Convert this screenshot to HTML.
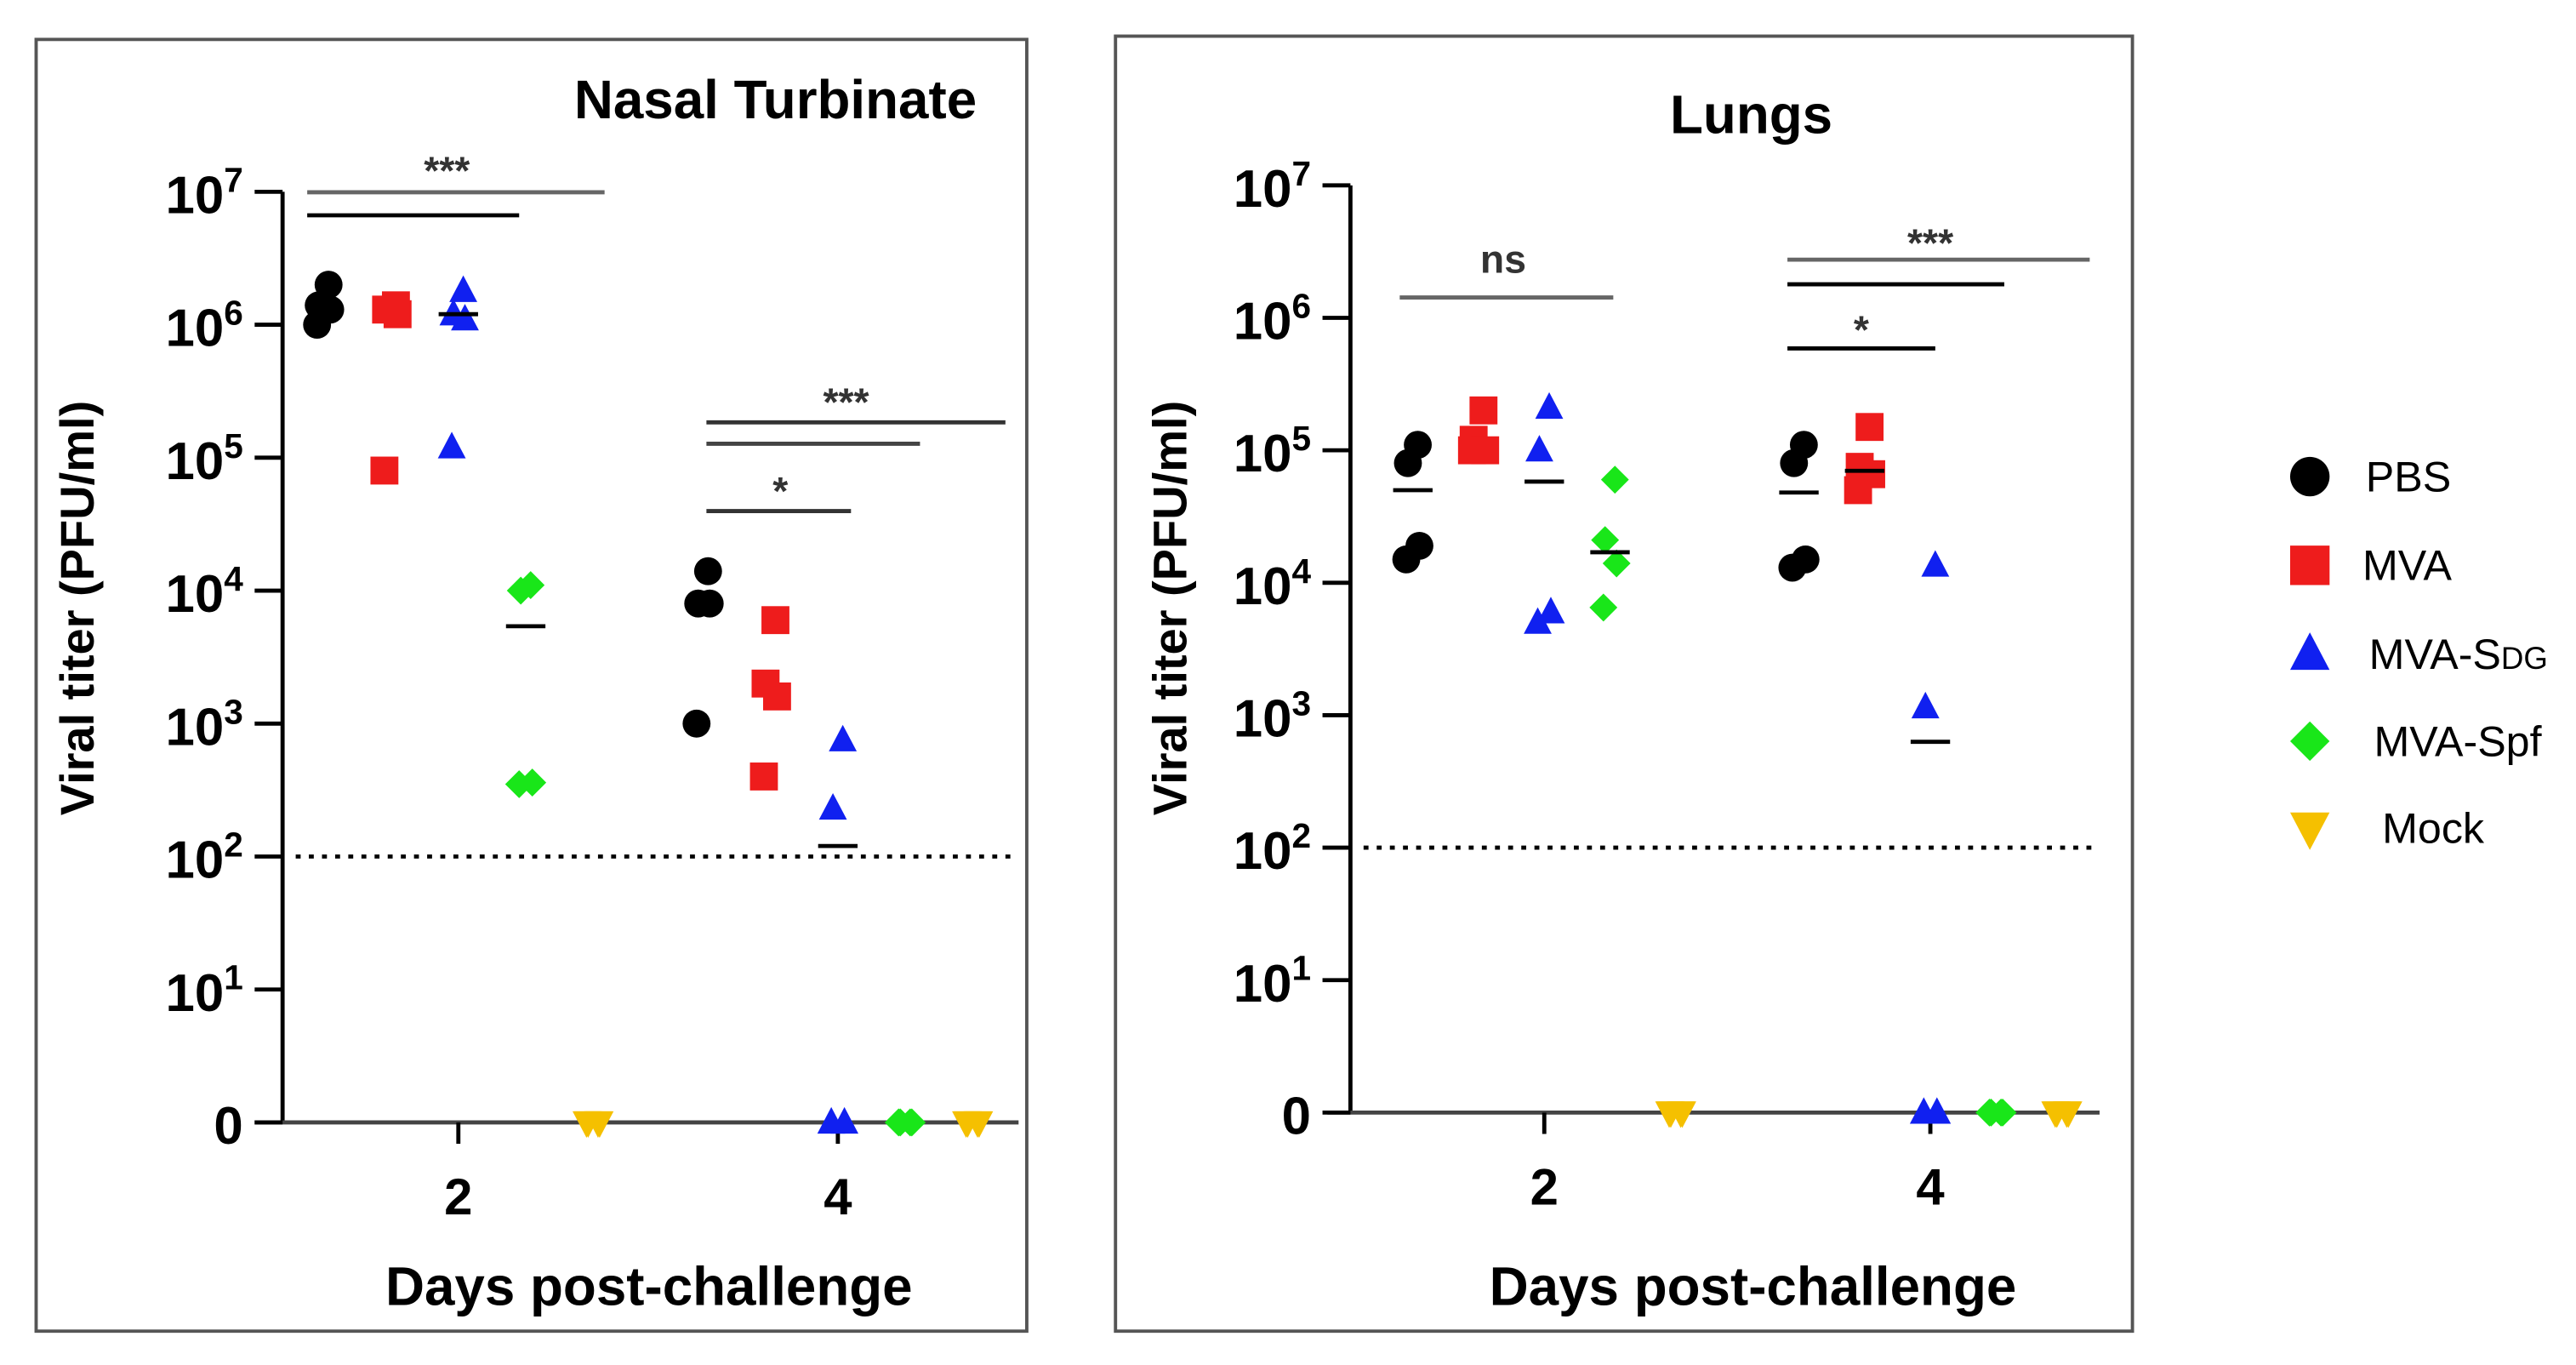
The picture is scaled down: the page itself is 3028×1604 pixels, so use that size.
<!DOCTYPE html>
<html><head><meta charset="utf-8">
<style>
html,body{margin:0;padding:0;background:#fff;}
svg{display:block;}
text{font-family:"Liberation Sans",sans-serif;}
</style></head>
<body>
<svg id="chart" width="3028" height="1604" viewBox="0 0 1568 830.6" preserveAspectRatio="none" xmlns="http://www.w3.org/2000/svg">
<rect x="0" y="0" width="1568" height="830.6" fill="#fff"/>
<rect x="22" y="24" width="603" height="786" fill="none" stroke="#555" stroke-width="2"/>
<rect x="679" y="22" width="619" height="788" fill="none" stroke="#555" stroke-width="2"/>
<text x="472" y="72" font-size="33" font-weight="bold" text-anchor="middle">Nasal Turbinate</text>
<text x="1066" y="81" font-size="33" font-weight="bold" text-anchor="middle">Lungs</text>
<g id="legend"></g>
</svg>
<script>
const NS='http://www.w3.org/2000/svg';
const svg=document.getElementById('chart');
const groups=['PBS','MVA','MVA-Sdg','MVA-Spf','Mock'];
const colors=['#000000','#ee1c1c','#1020f0','#19e619','#f5c000'];
const shapes=['circle','square','triangle','diamond','tridown'];
const days=['2','4'];
const yTickExps=[7,6,5,4,3,2,1];
// Nasal turbinate values [day][group][points]
const nasalDay2=[[2e6,1.4e6,1.3e6,1e6],[1.4e6,1.3e6,1.2e6,8e4],[1.8e6,1.2e6,1.1e6,1.2e5],[1.1e4,1e4,360,350],[0,0,0,0]];
const nasalDay4=[[1.4e4,8e3,8e3,1e3],[6e3,2e3,1.6e3,400],[750,230,0,0],[0,0,0,0],[0,0,0,0]];
const nasalMeansDay2=[null,null,1.2e6,5.4e3,null];
const nasalMeansDay4=[null,null,120,null,null];
// Lungs values
const lungDay2=[[1.1e5,8e4,1.9e4,1.5e4],[2e5,1.2e5,1e5,1e5],[2.1e5,1e5,6e3,5e3],[6e4,2.1e4,1.4e4,6.5e3],[0,0,0,0]];
const lungDay4=[[1.1e5,8e4,1.5e4,1.3e4],[1.5e5,7.5e4,6.6e4,5e4],[1.35e4,1150,0,0],[0,0,0,0],[0,0,0,0]];
const lungMeansDay2=[5e4,null,5.8e4,1.7e4,null];
const lungMeansDay4=[4.8e4,7e4,6.3e2,null,null];

const panels=[
 {id:'nasal',ax:172,yZero:683,dec:80.9,xL:155,xR:620,dayX:[279,510],gs:41,ylx:47,xlx:395,
  vals:[nasalDay2,nasalDay4],means:[nasalMeansDay2,nasalMeansDay4],
  sig:[{x1:187,x2:368,y:117,c:'#666',t:'***',tx:272,ty:112},{x1:187,x2:316,y:131,c:'#000'},
       {x1:430,x2:612,y:257,c:'#333',t:'***',tx:515,ty:253},{x1:430,x2:560,y:270,c:'#444'},
       {x1:430,x2:518,y:311,c:'#333',t:'*',tx:475,ty:307}]},
 {id:'lungs',ax:822,yZero:677,dec:80.6,xL:808,xR:1278,dayX:[940,1175],gs:40,ylx:712,xlx:1067,
  vals:[lungDay2,lungDay4],means:[lungMeansDay2,lungMeansDay4],
  sig:[{x1:852,x2:982,y:181,c:'#666',t:'ns',tx:915,ty:166},
       {x1:1088,x2:1272,y:158,c:'#666',t:'***',tx:1175,ty:156},{x1:1088,x2:1220,y:173,c:'#000'},
       {x1:1088,x2:1178,y:212,c:'#000',t:'*',tx:1133,ty:209}]}
];
function el(tag,attrs,parent){const e=document.createElementNS(NS,tag);for(const k in attrs)e.setAttribute(k,attrs[k]);(parent||svg).appendChild(e);return e;}
function marker(shape,cx,cy,col,s,parent){
  let e;
  if(shape==='circle')e=el('circle',{cx:cx,cy:cy,r:s},parent);
  else if(shape==='square')e=el('rect',{x:cx-s,y:cy-s,width:2*s,height:2*s},parent);
  else if(shape==='triangle')e=el('polygon',{points:`${cx},${cy-s*1.1} ${cx-s},${cy+s*0.8} ${cx+s},${cy+s*0.8}`},parent);
  else if(shape==='diamond')e=el('polygon',{points:`${cx},${cy-s} ${cx+s},${cy} ${cx},${cy+s} ${cx-s},${cy}`},parent);
  else e=el('polygon',{points:`${cx},${cy+s*1.1} ${cx-s},${cy-s*0.8} ${cx+s},${cy-s*0.8}`},parent);
  e.setAttribute('fill',col);return e;
}
const jit=[3,-3,4,-4];
panels.forEach(p=>{
  const g=el('g',{});
  
  
  const yS=v=>v<=0?p.yZero:p.yZero-Math.log10(Math.max(v,1))*p.dec;
  const ya=el('line',{x1:p.ax,x2:p.ax,y1:yS(1e7),y2:p.yZero,stroke:'#000','stroke-width':2.5},g);
  
  
  const xa=el('line',{x1:p.xL,x2:p.xR,y1:p.yZero,y2:p.yZero,stroke:'#444','stroke-width':2.5},g);
  
  
  yTickExps.concat([0]).forEach(ex=>{
    const y=ex===0?p.yZero:yS(Math.pow(10,ex));
    el('line',{x1:p.ax-17,x2:p.ax,y1:y,y2:y,stroke:'#000','stroke-width':2.5},g);
    const t=el('text',{x:p.ax-24,y:y+13,'font-size':32,'font-weight':'bold','text-anchor':'end'},g);
    
    
    if(ex===0)t.textContent='0';
    else{t.textContent='10';const s=el('tspan',{'font-size':21,dy:-13},t);s.textContent=String(ex);}
  });
  days.forEach((d,i)=>{
    const x=p.dayX[i];
    el('line',{x1:x,x2:x,y1:p.yZero,y2:p.yZero+13,stroke:'#000','stroke-width':2.5},g);
    const t=el('text',{x:x,y:p.yZero+56,'font-size':31,'font-weight':'bold','text-anchor':'middle'},g);
    
    
    t.textContent=d;
  });
  const xl=el('text',{x:p.xlx,y:794,'font-size':33,'font-weight':'bold','text-anchor':'middle'},g);
  
  
  xl.textContent='Days post-challenge';
  const yl=el('text',{x:0,y:0,'font-size':29,'font-weight':'bold','text-anchor':'middle',transform:`translate(${p.ylx+10},370) rotate(-90)`},g);
  
  
  yl.textContent='Viral titer (PFU/ml)';
  const dl=el('line',{x1:p.ax+8,x2:p.xR,y1:yS(100),y2:yS(100),stroke:'#000','stroke-width':2.5,'stroke-dasharray':'3,5'},g);
  
  
  p.vals.forEach((dayVals,di)=>{
    dayVals.forEach((pts,gi)=>{
      const cx=p.dayX[di]+(gi-2)*p.gs;
      pts.forEach((v,k)=>{
        const m=marker(shapes[gi],cx+jit[k],yS(v),colors[gi],8.5,g);
        
        
      });
      const mv=p.means[di][gi];
      if(mv!==null){
        const ml=el('line',{x1:cx-12,x2:cx+12,y1:yS(mv),y2:yS(mv),stroke:'#000','stroke-width':2.5},g);
        
        
      }
    });
  });
  p.sig.forEach(s=>{
    const l=el('line',{x1:s.x1,x2:s.x2,y1:s.y,y2:s.y,stroke:s.c,'stroke-width':2.5},g);
    
    
    if(s.t){
      const t=el('text',{x:s.tx,y:s.ty,'font-size':24,'font-weight':'bold','text-anchor':'middle',fill:'#333'},g);
      
      
      t.textContent=s.t;
    }
  });
});
const lg=document.getElementById('legend');
const legY=[290,344,398,451,504];
const legTx=[1440,1438,1442,1445,1450];
groups.forEach((n,i)=>{
  const m=marker(shapes[i],1406,legY[i],colors[i],12,lg);
  
  
  const t=el('text',{x:legTx[i],y:legY[i]+9,'font-size':26},lg);
  
  
  if(n==='MVA-Sdg'){t.textContent='MVA-S';const s=el('tspan',{'font-size':19},t);s.textContent='DG';}
  else t.textContent=n;
});
</script>
</body></html>
